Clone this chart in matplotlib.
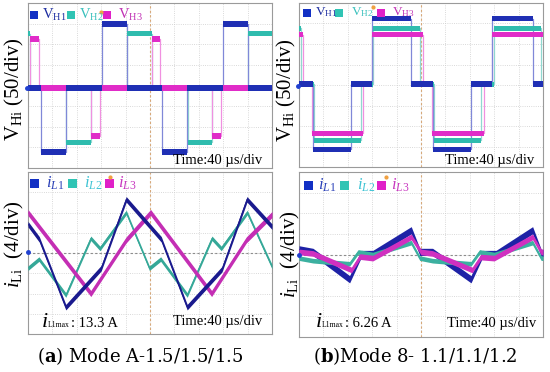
import numpy as np
import matplotlib.pyplot as plt
from matplotlib.patches import Rectangle

plt.rcParams['font.family'] = ['Liberation Serif', 'DejaVu Serif']
plt.rcParams['mathtext.fontset'] = 'custom'
plt.rcParams['mathtext.rm'] = 'Liberation Serif'
plt.rcParams['mathtext.it'] = 'Liberation Serif:italic'
plt.rcParams['mathtext.bf'] = 'DejaVu Serif:bold'

# scope settings: 40 us/div (10 div), 50 V/div and 4 A/div (8 div)
t_div = 40
v_div = 50
i_div = 4

# (a) Mode A-1.5/1.5/1.5 -- bridge voltages: switching instants (us), level after each (V)
a_vh1_t = [0, 21, 62, 121, 162, 220, 260, 319, 360, 400]
a_vh1_v = [0, -156, 0, 156, 0, -156, 0, 156, 0]
a_vh2_t = [0, 3, 63, 103, 163, 203, 263, 302, 361, 400]
a_vh2_v = [132, 0, -132, 0, 132, 0, -132, 0, 132]
a_vh3_t = [0, 4, 18, 104, 118, 203, 217, 302, 316, 400]
a_vh3_v = [0, 118, 0, -116, 0, 118, 0, -116, 0]

# (a) inductor currents: corner points (us, A)
a_il1_t = [0, 18.5, 62, 120, 161, 218.5, 261, 318, 359, 400]
a_il1_v = [5.7, 2.7, -10.7, -3.0, 10.6, 2.7, -10.7, -3.2, 10.6, 5.2]
a_il2_t = [0, 18, 62, 103, 118, 161, 199, 217.5, 261, 301.6, 316.8, 359.4, 400]
a_il2_v = [-3.0, -1.2, -8.3, 2.9, 0.9, 8.0, -3.0, -1.2, -8.3, 2.9, 0.9, 8.0, -2.7]
a_il3_t = [0, 103, 161, 201, 301, 358, 400]
a_il3_v = [8.0, -8.0, 2.6, 8.0, -8.0, 2.6, 7.6]

# (b) Mode 8- 1.1/1.1/1.2 -- bridge voltages
b_vh1_t = [0, 23, 85, 119, 184, 219, 282, 317, 383, 400]
b_vh1_v = [0, -159, 0, 160, 0, -159, 0, 160, 0]
b_vh2_t = [0, 3, 25, 101, 121, 198, 221, 298, 320, 396, 400]
b_vh2_v = [136, 0, -137, 0, 136, 0, -137, 0, 136, 0]
b_vh3_t = [0, 6, 21, 105, 119, 204, 218, 303, 316, 400]
b_vh3_v = [121, 0, -120, 0, 121, 0, -120, 0, 121]

# (b) inductor currents
b_il1_t = [0, 23, 83, 102, 121, 184, 198, 219, 282, 301, 323, 383, 397, 400]
b_il1_v = [1.0, 0.5, -4.8, 0.1, 0.1, 4.7, 0.5, 0.5, -4.8, 0.1, 0.1, 4.7, 0.3, 0.3]
b_il2_t = [0, 23, 83, 97, 121, 184, 198, 219, 282, 296, 320, 383, 397, 400]
b_il2_v = [-0.7, -1.2, -1.8, 0.5, 0.0, 2.3, -0.7, -1.2, -1.8, 0.5, 0.0, 2.3, -0.7, -0.7]
b_il3_t = [0, 23, 86, 100, 121, 184, 200, 219, 284, 298, 320, 383, 397, 400]
b_il3_v = [0.5, 0.2, -3.0, -0.4, -0.7, 3.4, 0.5, 0.2, -3.0, -0.5, -0.7, 3.4, 0.5, 0.5]

a_il1max = ': 13.3 A'
b_il1max = ': 6.26 A'

W, H = 550, 372
fig = plt.figure(figsize=(W / 100, H / 100), dpi=100)


def px_axes(x0, y0, x1, y1):
    return fig.add_axes([x0 / W, 1 - y1 / H, (x1 - x0) / W, (y1 - y0) / H])


def scope(ax, ylo, yhi, hline=True):
    ax.set_xlim(0, 10 * t_div)
    ax.set_ylim(ylo, yhi)
    ax.set_xticks(np.linspace(0, 10 * t_div, 11))
    ax.set_yticks(np.linspace(ylo, yhi, 9))
    ax.grid(True, ls=':', lw=0.6, color='#cdcdcd')
    ax.tick_params(length=0, labelbottom=False, labelleft=False)
    for s in ax.spines.values():
        s.set_color('#9a9a9a')
        s.set_linewidth(0.8)
    ax.axvline(5 * t_div, color='#d8a878', lw=0.8, ls=(0, (2, 2)))
    if hline:
        ax.axhline((ylo + yhi) / 2, color='#8c8c8c', lw=0.8, ls=(0, (2, 2)))


def steps(ax, t, v, h, col, thin):
    t = np.asarray(t, float)
    v = np.append(np.asarray(v, float), v[-1])
    ax.step(t, v, where='post', color=thin, lw=0.9, zorder=2)
    ax.fill_between(t, v - h, v + h, step='post', color=col, lw=0, zorder=3)


def trace(ax, t, v, h, col):
    t = np.asarray(t, float)
    v = np.asarray(v, float)
    ax.fill_between(t, v - h, v + h, color=col, lw=0, zorder=3)
    ax.plot(t, v, color=col, lw=0.6, zorder=3)


def ftext(x, y, s, **kw):
    return fig.text(x / W, 1 - y / H, s, **kw)


def square(x, y, c, s=8):
    fig.add_artist(Rectangle((x / W, 1 - (y + s / 2) / H), s / W, s / H,
                             transform=fig.transFigure, color=c, lw=0))


def dot(x, y, c, ms=2.5):
    fig.add_artist(plt.Line2D([x / W], [1 - y / H], marker='o', ms=ms, color=c,
                              transform=fig.transFigure))


c_sq = ['#1230c4', '#30c4b4', '#e020c8']
c_top = [('#1f2fb4', '#8088d8'), ('#2fbcae', '#90d8d0'), ('#e02cc8', '#f090e0')]
c_bl = ['#1a1a8e', '#35a898', '#c42eb4']
c_br = ['#1e22a6', '#3cb0a0', '#d030c0']
c_vtxt = ['#1c2ca0', '#38c0bc', '#c030b4']
c_itxt = ['#2a40b8', '#40c4d4', '#c838c0']

# ---------------- top-left
ax = px_axes(28, 3, 272, 168)
scope(ax, -3.88 * v_div, 4.12 * v_div, hline=False)
steps(ax, a_vh2_t, a_vh2_v, 6, *c_top[1])
steps(ax, a_vh3_t, a_vh3_v, 7, *c_top[2])
steps(ax, a_vh1_t, a_vh1_v, 7, *c_top[0])

# ---------------- top-right
ax = px_axes(299, 3, 543, 167)
scope(ax, -4.04 * v_div, 3.96 * v_div, hline=False)
steps(ax, b_vh2_t, b_vh2_v, 6, *c_top[1])
steps(ax, b_vh3_t, b_vh3_v, 7, *c_top[2])
steps(ax, b_vh1_t, b_vh1_v, 7, *c_top[0])

# ---------------- bottom-left
ax = px_axes(28, 172, 272, 334)
scope(ax, -4 * i_div, 4 * i_div)
trace(ax, a_il2_t, a_il2_v, 0.45, c_bl[1])
trace(ax, a_il3_t, a_il3_v, 0.6, c_bl[2])
trace(ax, a_il1_t, a_il1_v, 0.55, c_bl[0])

# ---------------- bottom-right
ax = px_axes(299, 172, 543, 337)
scope(ax, -4 * i_div, 4 * i_div)
trace(ax, b_il1_t, b_il1_v, 0.7, c_br[0])
trace(ax, b_il2_t, b_il2_v, 0.45, c_br[1])
trace(ax, b_il3_t, b_il3_v, 0.55, c_br[2])

# channel ground markers and trigger dots
for x, y in [(27, 88), (298, 86), (28, 252), (299, 255)]:
    dot(x, y, '#2040d0')
for x, y in [(101, 11.5), (373, 6.5), (110, 176.5), (386, 176.5)]:
    dot(x, y, '#f0a040', 2)

# legends
for x, c in zip([30, 67, 103], c_sq):
    square(x, 15, c)
for x, n, c in zip([42, 79, 118], ['1', '2', '3'], c_vtxt):
    ftext(x, 15, r'V$_{\mathrm{H%s}}$' % n, color=c, size=10.5, va='center')
for x, c in zip([303, 335, 377], c_sq):
    square(x, 12.5, c)
for x, n, c in zip([315, 351, 392], ['1', '2', '3'], c_vtxt):
    ftext(x, 12.5, r'V$_{\mathrm{H%s}}$' % n, color=c, size=9.5, va='center')
for x, c in zip([30, 68, 105], c_sq):
    square(x, 183.5, c, 9)
for x, n, c in zip([46, 84, 118], ['1', '2', '3'], c_itxt):
    ftext(x, 183.5, r'$\mathit{i}_{\mathit{L%s}}$' % n, color=c, size=12, va='center')
for x, c in zip([304, 340, 377], c_sq):
    square(x, 185, c, 9)
for x, n, c in zip([318, 357, 391], ['1', '2', '3'], c_itxt):
    ftext(x, 185, r'$\mathit{i}_{\mathit{L%s}}$' % n, color=c, size=12, va='center')

# time base and peak current
for x, y in [(262, 160), (534, 160), (262, 322), (536, 323)]:
    ftext(x, y, 'Time:40 \u00b5s/div', size=10.5, ha='right', va='center')
for x, val in [(42, a_il1max), (316, b_il1max)]:
    ftext(x, 327, 'i', size=16, style='italic', va='baseline')
    ftext(x + 6, 327, 'L1max', size=5.5, va='baseline')
    ftext(x + 29, 327, val, size=10.5, va='baseline')

# y labels
for x, y in [(14, 89), (286, 90)]:
    ftext(x, y, r'V$_{\mathrm{Hi}}$ (50/div)', size=15, rotation=90, ha='center', va='center')
for x, y in [(14, 244), (290, 254)]:
    ftext(x, y, r'$\mathit{i}_{\mathrm{Li}}$  (4/div)', size=15, rotation=90, ha='center', va='center')

# captions
ftext(140, 356, r'($\mathbf{a}$) Mode A-1.5/1.5/1.5', family='DejaVu Serif', size=13, ha='center', va='center')
ftext(415, 356, r'($\mathbf{b}$)Mode 8- 1.1/1.1/1.2', family='DejaVu Serif', size=13, ha='center', va='center')

fig.savefig('out.png', dpi=100)
